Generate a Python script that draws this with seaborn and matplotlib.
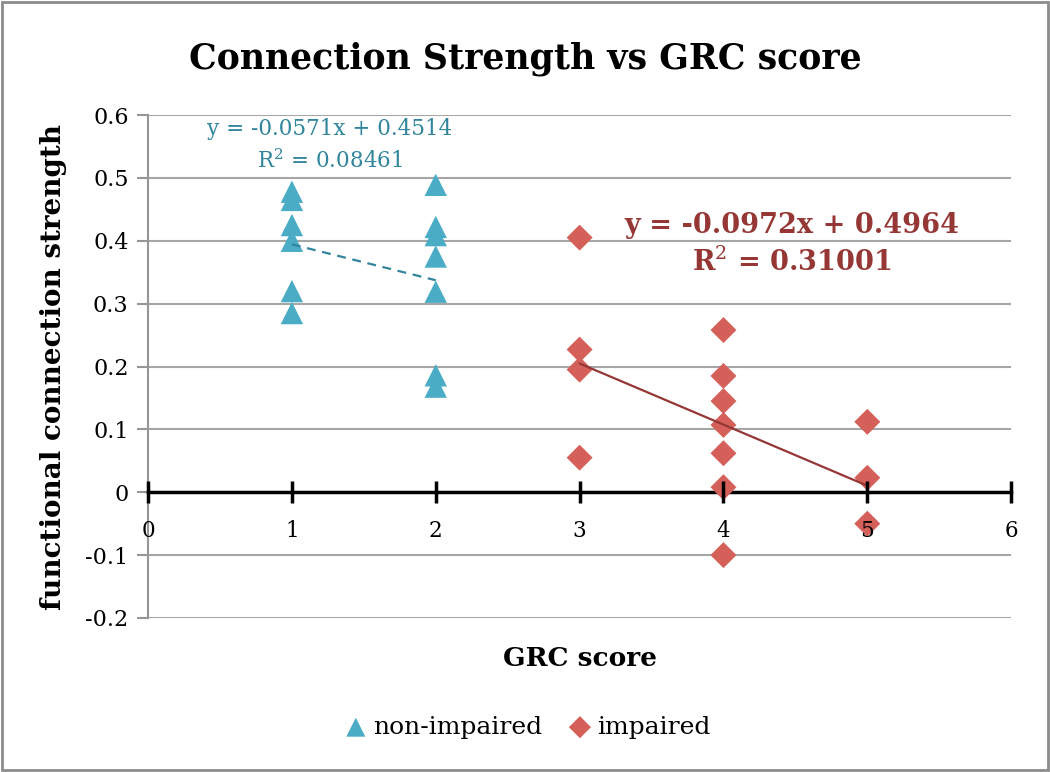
import matplotlib
matplotlib.use("Agg")
import matplotlib.pyplot as plt
import matplotlib.patches as mpatches
import seaborn as sns
import pandas as pd
import numpy as np

# Data
non_x = [1, 1, 1, 1, 1, 1, 2, 2, 2, 2, 2, 2, 2]
non_y = [0.478, 0.465, 0.425, 0.400, 0.320, 0.285, 0.489, 0.422, 0.409, 0.375, 0.319, 0.186, 0.168]
imp_x = [3, 3, 3, 3, 4, 4, 4, 4, 4, 4, 4, 5, 5, 5]
imp_y = [0.405, 0.227, 0.195, 0.055, 0.258, 0.185, 0.145, 0.107, 0.062, 0.008, -0.100, 0.112, 0.023, -0.050]
non_fit = (-0.0571, 0.4514)
imp_fit = (-0.0972, 0.4964)
non_eq = ["y = -0.0571x + 0.4514", "R$^2$ = 0.08461"]
imp_eq = ["y = -0.0972x + 0.4964", "R$^2$ = 0.31001"]
x_ticks = [0, 1, 2, 3, 4, 5, 6]
y_ticks = [-0.2, -0.1, 0, 0.1, 0.2, 0.3, 0.4, 0.5, 0.6]
y_tick_labels = ["-0.2", "-0.1", "0", "0.1", "0.2", "0.3", "0.4", "0.5", "0.6"]

sns.set_style("white")
plt.rcParams['font.family'] = ['DejaVu Serif']
plt.rcParams['mathtext.fontset'] = 'dejavuserif'
plt.rcParams['text.color'] = 'black'
plt.rcParams['axes.labelcolor'] = 'black'
plt.rcParams['xtick.color'] = 'black'
plt.rcParams['ytick.color'] = 'black'

fig = plt.figure(figsize=(10.5, 7.72), dpi=100)
ax = fig.add_axes([0.141, 0.1995, 0.822, 0.6515])

blue = '#4BACC6'
red = '#D5605A'
blue_dark = '#31859C'
red_dark = '#953735'

df_non = pd.DataFrame({'x': non_x, 'y': non_y})
df_imp = pd.DataFrame({'x': imp_x, 'y': imp_y})

sns.scatterplot(data=df_non, x='x', y='y', marker='^', s=260, color=blue,
                edgecolor='none', ax=ax, label='non-impaired', zorder=3)
sns.scatterplot(data=df_imp, x='x', y='y', marker='D', s=175, color=red,
                edgecolor='none', ax=ax, label='impaired', zorder=3)

# trend lines
xs = np.array([min(non_x), max(non_x)])
ax.plot(xs, non_fit[0] * xs + non_fit[1], color=blue_dark, lw=1.6, ls=(0, (4, 3)), zorder=4)
xs = np.array([min(imp_x), max(imp_x)])
ax.plot(xs, imp_fit[0] * xs + imp_fit[1], color=red_dark, lw=1.6, zorder=4)

ax.text(1.265, 0.578, non_eq[0], color=blue_dark, fontsize=15.5, ha='center', va='center')
ax.text(1.265, 0.527, non_eq[1], color=blue_dark, fontsize=15.5, ha='center', va='center')
ax.text(4.475, 0.425, imp_eq[0], color=red_dark, fontsize=19.5, fontweight='bold', ha='center', va='center')
ax.text(4.475, 0.366, imp_eq[1], color=red_dark, fontsize=19.5, fontweight='bold', ha='center', va='center')

ax.set_xlim(0, 6)
ax.set_ylim(-0.2, 0.6)
ax.set_xticks(x_ticks)
ax.set_yticks(y_ticks)
ax.set_yticklabels(y_tick_labels)
ax.yaxis.grid(True, color='#A6A6A6', lw=1.5)
ax.set_axisbelow(True)

for s in ['top', 'right']:
    ax.spines[s].set_visible(False)
ax.spines['left'].set_color('#969696')
ax.spines['left'].set_linewidth(1.5)
ax.spines['bottom'].set_position(('data', 0))
ax.spines['bottom'].set_color('black')
ax.spines['bottom'].set_linewidth(2.5)
ax.tick_params(axis='x', bottom=True, direction='inout', length=16, width=2.5, color='black',
               labelsize=15.5, pad=12)
ax.tick_params(axis='y', left=True, direction='out', length=8, width=1.5, color='#969696',
               labelsize=16, pad=6)
ax.xaxis.set_zorder(5)

ax.set_xlabel('GRC score', fontsize=19, fontweight='bold', labelpad=0)
ax.xaxis.set_label_coords(0.5, -0.055)
ax.set_ylabel('functional connection strength', fontsize=20, fontweight='bold', labelpad=6)
ax.yaxis.set_label_coords(-0.094, 0.5)
fig.suptitle('Connection Strength vs GRC score', fontsize=25, fontweight='bold',
             x=0.5, y=0.924, va='center')

ax.get_legend().remove()
h, l = ax.get_legend_handles_labels()
fig.legend(h, l, loc='center', bbox_to_anchor=(0.496, 0.058), ncol=2, frameon=False,
           fontsize=18, handletextpad=-0.3, columnspacing=0.5, markerscale=0.85)

fig.patches.append(mpatches.Rectangle((0.002, 0.002), 0.996, 0.996, transform=fig.transFigure,
                                      fill=False, edgecolor='#8C8C8C', lw=2))

fig.savefig('out.png', dpi=100)
